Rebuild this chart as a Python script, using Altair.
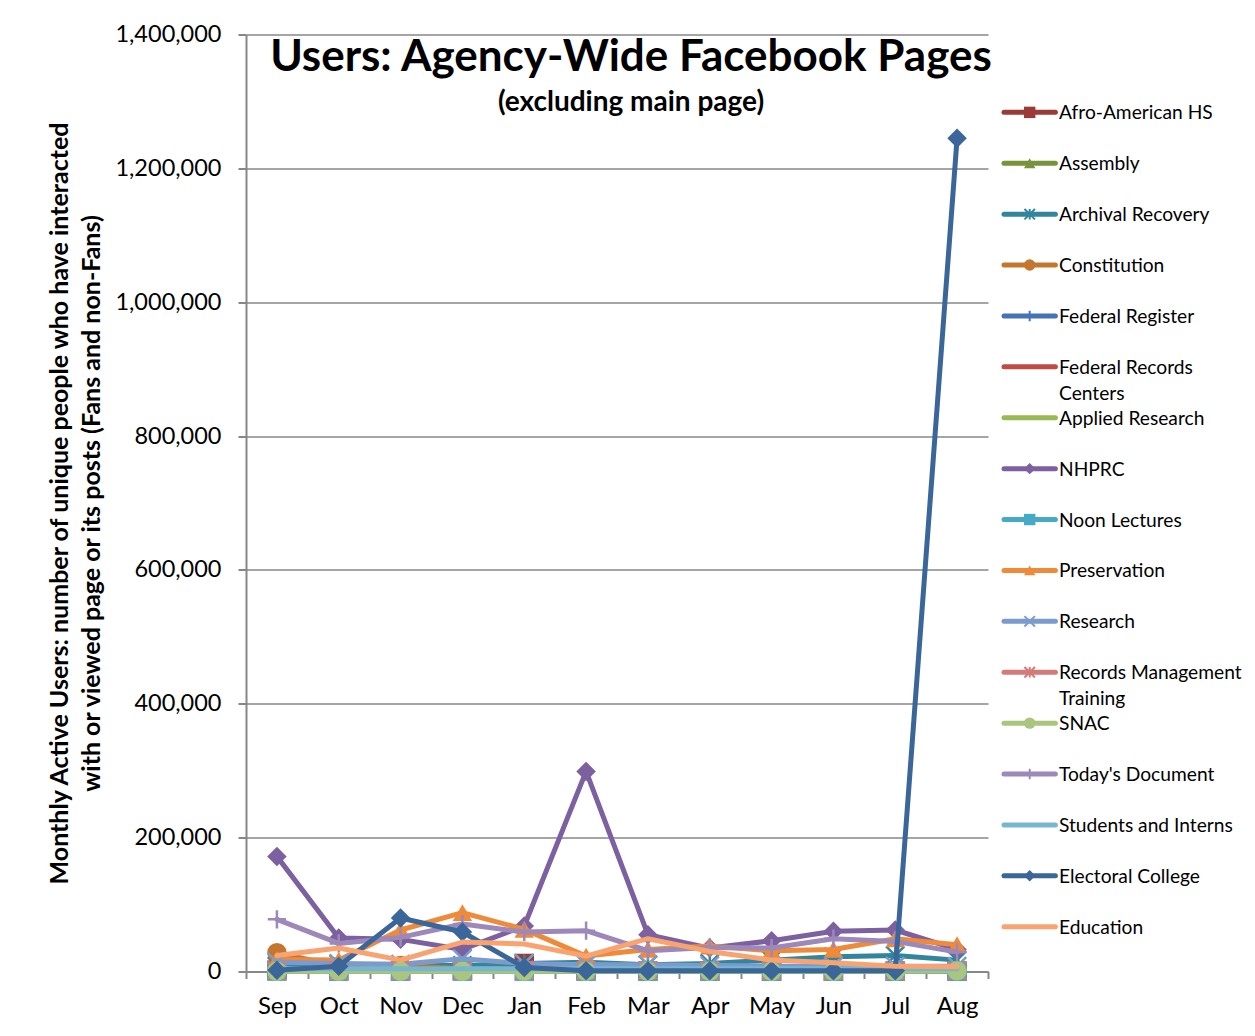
import altair as alt
import pandas as pd

months = ["Sep", "Oct", "Nov", "Dec", "Jan", "Feb", "Mar", "Apr", "May", "Jun", "Jul", "Aug"]

series_names = [
    "Afro-American HS", "Assembly", "Archival Recovery", "Constitution",
    "Federal Register", "Federal Records Centers", "Applied Research", "NHPRC",
    "Noon Lectures", "Preservation", "Research", "Records Management Training",
    "SNAC", "Today's Document", "Students and Interns", "Electoral College", "Education",
]
legend_labels = [
    "Afro-American HS", "Assembly", "Archival Recovery", "Constitution",
    "Federal Register", "Federal Records\nCenters", "Applied Research", "NHPRC",
    "Noon Lectures", "Preservation", "Research", "Records Management\nTraining",
    "SNAC", "Today's Document", "Students and Interns", "Electoral College", "Education",
]

# monthly active users, thousands
afro_american_hs = [2, 1, 1, 2, 12, 1, 0.5, 0.5, 0.5, 0.5, 0.5, 0.5]
assembly = [1, 1, 1, 1, 1, 0.5, 0.5, 0.5, 0.5, 0.5, 0.5, 0.5]
archival_recovery = [8, 11, 9, 9, 12, 14, 10, 12, 17, 22, 24, 17]
constitution = [28, 8, 9, 4, 3, 2, 2, 2, 1, 1, 1, 1]
federal_register = [3, 2, 2, 2, 1, 1, 1, 1, 1, 1, 1, 1]
federal_records_centers = [1, 1, 1, 1, 1, 1, 0.5, 0.5, 0.5, 0.5, 0.5, 0.5]
applied_research = [0.3, 0.3, 0.3, 0.3, 0.3, 0.3, 0.3, 0.3, 0.3, 0.3, 0.3, 0.5]
nhprc = [172, 50, 48, 33, 68, 299, 55, 35, 46, 60, 62, 33]
noon_lectures = [0.5, 0.5, 0.5, 0.5, 0.5, 0.5, 0.5, 0.5, 0.5, 0.5, 0.5, 0.5]
preservation = [18, 17, 62, 88, 63, 23, 33, 38, 31, 33, 49, 40]
research = [14, 12, 11, 19, 12, 10, 10, 9, 8, 8, 8, 8]
records_management_training = [1, 1, 1, 1, 2, 1, 1, 1, 1, 1, 1, 1]
snac = [0.3, 0.3, 0.3, 0.3, 0.3, 0.3, 0.3, 0.3, 0.3, 0.3, 0.3, 1]
todays_document = [78, 42, 51, 71, 59, 61, 31, 36, 35, 49, 45, 29]
students_and_interns = [4, 4, 4, 4, 4, 4, 4, 4, 4, 4, 4, 4]
electoral_college = [2, 8, 80, 59, 6, 1, 1, 1, 1, 1, 1, 1245]
education = [24, 35, 17, 44, 41, 23, 49, 30, 17, 13, 8, 7]

series_values = [
    afro_american_hs, assembly, archival_recovery, constitution, federal_register,
    federal_records_centers, applied_research, nhprc, noon_lectures, preservation,
    research, records_management_training, snac, todays_document,
    students_and_interns, electoral_college, education,
]

colors = [
    "#9B3B38", "#77933C", "#31859C", "#C4762E", "#4573B9", "#BE4B48", "#98B954",
    "#7D60A0", "#46AAC5", "#EE8A3A", "#7C9BCD", "#D27B79", "#A9C57E", "#9D88BA",
    "#76B7CF", "#3B6699", "#F9A470",
]

PLUS = "M0,-1L0,1M-1,0L1,0"
XMARK = "M-1,-1L1,1M-1,1L1,-1"
STAR = "M-1,-1L1,1M-1,1L1,-1M0,-1L0,1"
# (shape, filled)
markers = [
    ("square", True), ("triangle-up", True), (STAR, False), ("circle", True),
    (PLUS, False), None, None, ("diamond", True), ("square", True),
    ("triangle-up", True), (XMARK, False), (STAR, False), ("circle", True),
    (PLUS, False), None, ("diamond", True), None,
]

rows = []
for name, vals in zip(series_names, series_values):
    for m, v in zip(months, vals):
        rows.append({"month": m, "series": name, "users": v * 1000})
df = pd.DataFrame(rows)

FONT = "Lato"
GRID = "#878787"

color_enc = alt.Color("series:N", scale=alt.Scale(domain=series_names, range=colors), legend=None)

x_enc = alt.X(
    "month:N", sort=months,
    scale=alt.Scale(type="band", paddingInner=0, paddingOuter=0),
    axis=alt.Axis(title=None, tickBand="extent", labelAngle=0, labelFontSize=24,
                  labelPadding=16, tickSize=7, tickWidth=2, tickColor=GRID,
                  domainColor=GRID, domainWidth=2, grid=False, labelColor="black",
                  labelFont=FONT),
)
y_enc = alt.Y(
    "users:Q",
    scale=alt.Scale(domain=[0, 1400000], nice=False),
    axis=alt.Axis(
        values=list(range(0, 1400001, 200000)), format=",d",
        title=["Monthly Active Users: number of unique people who have interacted",
               "with or viewed page or its posts (Fans and non-Fans)"],
        titleFontSize=25, titleFontWeight="bold", titleLineHeight=32, titlePadding=10,
        titleColor="black", titleFont=FONT,
        labelFontSize=23.5, labelPadding=17, labelColor="black", labelFont=FONT,
        tickSize=8, tickWidth=2, tickColor=GRID, domainColor=GRID, domainWidth=2,
        gridColor=GRID, gridWidth=1.5,
    ),
)

layers = []
for name, mk in zip(series_names, markers):
    base = alt.Chart(df).transform_filter(alt.datum.series == name)
    layers.append(
        base.mark_line(strokeWidth=5, strokeJoin="round", strokeCap="round")
        .encode(x=x_enc, y=y_enc, color=color_enc)
    )
    if mk is not None:
        shape, filled = mk
        if filled:
            pt = base.mark_point(shape=shape, filled=True, opacity=1, size=380)
        else:
            pt = base.mark_point(shape=shape, filled=False, opacity=1, size=330, strokeWidth=2.5)
        layers.append(pt.encode(x=x_enc, y=y_enc, color=color_enc))

main = alt.layer(*layers).properties(
    width=742, height=937,
    title=alt.TitleParams(
        text="Users: Agency-Wide Facebook Pages",
        subtitle="(excluding main page)",
        anchor="middle", frame="group", offset=-94, dx=14,
        font=FONT, fontSize=44, fontWeight="bold", color="black",
        subtitleFont=FONT, subtitleFontSize=28, subtitleFontWeight="bold",
        subtitleColor="black", subtitlePadding=9,
    ),
)

leg_df = pd.DataFrame({
    "series": series_names,
    "label": legend_labels,
    "idx": list(range(len(series_names))),
})
leg_x_scale = alt.Scale(domain=[0, 4.63], nice=False, zero=False)
leg_y = alt.Y("idx:Q", scale=alt.Scale(domain=[-1.53, 16.88], reverse=True, nice=False, zero=False), axis=None)

leg_layers = [
    alt.Chart(leg_df).mark_rule(strokeWidth=5, strokeCap="round").encode(
        x=alt.X(datum=0, type="quantitative", scale=leg_x_scale, axis=None),
        x2=alt.X2(datum=1),
        y=leg_y, color=color_enc,
    )
]
for name, mk in zip(series_names, markers):
    if mk is None:
        continue
    shape, filled = mk
    b = alt.Chart(leg_df).transform_filter(alt.datum.series == name)
    if filled:
        p = b.mark_point(shape=shape, filled=True, opacity=1, size=130)
    else:
        p = b.mark_point(shape=shape, filled=False, opacity=1, size=110, strokeWidth=2)
    leg_layers.append(p.encode(
        x=alt.X(datum=0.5, type="quantitative", scale=leg_x_scale, axis=None),
        y=leg_y, color=color_enc))
leg_layers.append(
    alt.Chart(leg_df).mark_text(align="left", baseline="alphabetic", dy=7, fontSize=19.2,
                                font=FONT, lineBreak="\n", lineHeight=26, color="black").encode(
        x=alt.X(datum=1.07, type="quantitative", scale=leg_x_scale, axis=None),
        y=leg_y, text="label:N")
)
legend = alt.layer(*leg_layers).properties(width=238, height=937)

chart = alt.hconcat(main, legend, spacing=8).properties(
    padding={"left": 39, "top": 14.5, "right": 0, "bottom": 0},
    background="white",
).configure_view(stroke=None)

chart.save("out.html", embed_options={"renderer": "svg", "actions": False})
